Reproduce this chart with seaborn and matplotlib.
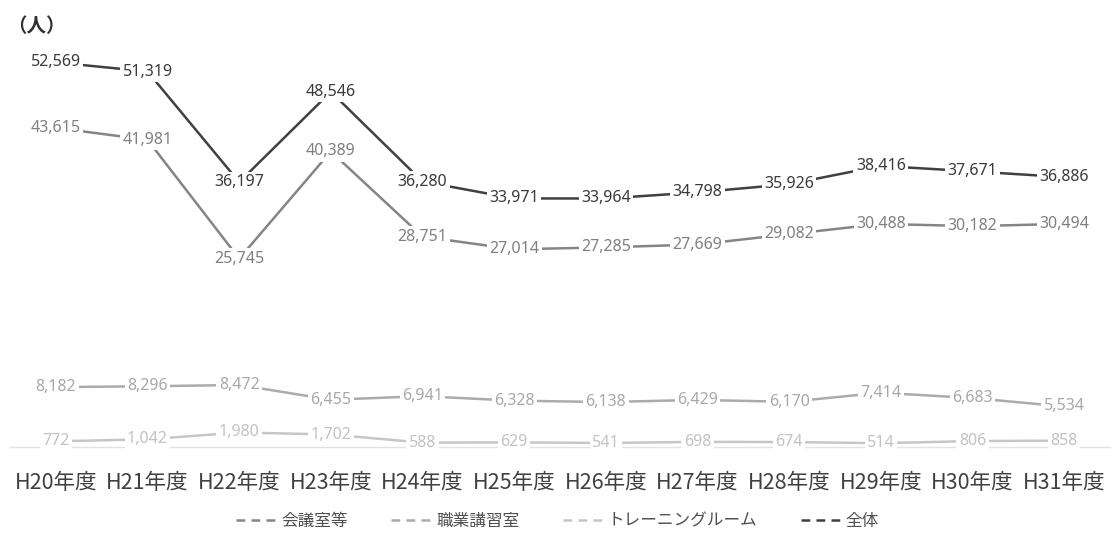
import matplotlib
matplotlib.use("Agg")
import matplotlib.pyplot as plt
from matplotlib.lines import Line2D
import seaborn as sns
import pandas as pd

years = ["H20年度", "H21年度", "H22年度", "H23年度", "H24年度", "H25年度",
         "H26年度", "H27年度", "H28年度", "H29年度", "H30年度", "H31年度"]
kaigishitsu = [43615, 41981, 25745, 40389, 28751, 27014, 27285, 27669, 29082, 30488, 30182, 30494]
koshushitsu = [8182, 8296, 8472, 6455, 6941, 6328, 6138, 6429, 6170, 7414, 6683, 5534]
training = [772, 1042, 1980, 1702, 588, 629, 541, 698, 674, 514, 806, 858]
zentai = [52569, 51319, 36197, 48546, 36280, 33971, 33964, 34798, 35926, 38416, 37671, 36886]

series_names = ["会議室等", "職業講習室", "トレーニングルーム", "全体"]
series_values = [kaigishitsu, koshushitsu, training, zentai]
line_colors = ["#858585", "#ababab", "#c6c6c6", "#404040"]
text_colors = ["#808080", "#a8a8a8", "#c2c2c2", "#3a3a3a"]

sns.set_theme(style="white")
plt.rcParams["font.family"] = ["Noto Sans CJK JP", "DejaVu Sans"]

df = pd.DataFrame({
    "year": [y for _ in series_names for y in years],
    "x": [i for _ in series_names for i in range(len(years))],
    "series": [n for n in series_names for _ in years],
    "value": [v for vals in series_values for v in vals],
})

fig = plt.figure(figsize=(11.15, 5.34), dpi=100)
ax = fig.add_axes([0.009, 0.163, 0.9865, 0.822])

sns.lineplot(data=df, x="x", y="value", hue="series", hue_order=series_names,
             palette=line_colors, linewidth=1.8, legend=False, ax=ax, sort=False)

# value labels centred on each point, masking the line underneath
for vals, tc in zip(series_values, text_colors):
    for i, v in enumerate(vals):
        ax.text(i, v, f"{v:,}", ha="center", va="center", fontsize=11.5,
                color=tc, family=["Noto Sans", "DejaVu Sans"], zorder=5,
                bbox=dict(boxstyle="square,pad=0.15", fc="white", ec="none"))

ax.set_xlim(-0.5, len(years) - 0.5)
ax.set_ylim(0, 60000)
ax.set_xticks(range(len(years)))
ax.set_xticklabels(years, fontsize=15.5, color="#404040")
ax.set_yticks([])
ax.set_xlabel("")
ax.set_ylabel("")
ax.tick_params(axis="x", length=0, pad=18)
for side in ["left", "right", "top"]:
    ax.spines[side].set_visible(False)
ax.spines["bottom"].set_color("#e2e2e2")
ax.spines["bottom"].set_linewidth(1.0)

fig.text(0.006, 0.95, "（人）", fontsize=14, fontweight="bold", color="#303030",
         ha="left", va="center")

handles = [Line2D([0], [0], color=c, linewidth=1.8, linestyle=(0, (3.5, 2.5)))
           for c in line_colors]
leg = fig.legend(handles, series_names, loc="lower center", bbox_to_anchor=(0.5, -0.02),
                 ncol=4, frameon=False, fontsize=12, handlelength=2.4,
                 columnspacing=2.6, handletextpad=0.3)
for t in leg.get_texts():
    t.set_color("#505050")

fig.savefig("out.png", dpi=100)
